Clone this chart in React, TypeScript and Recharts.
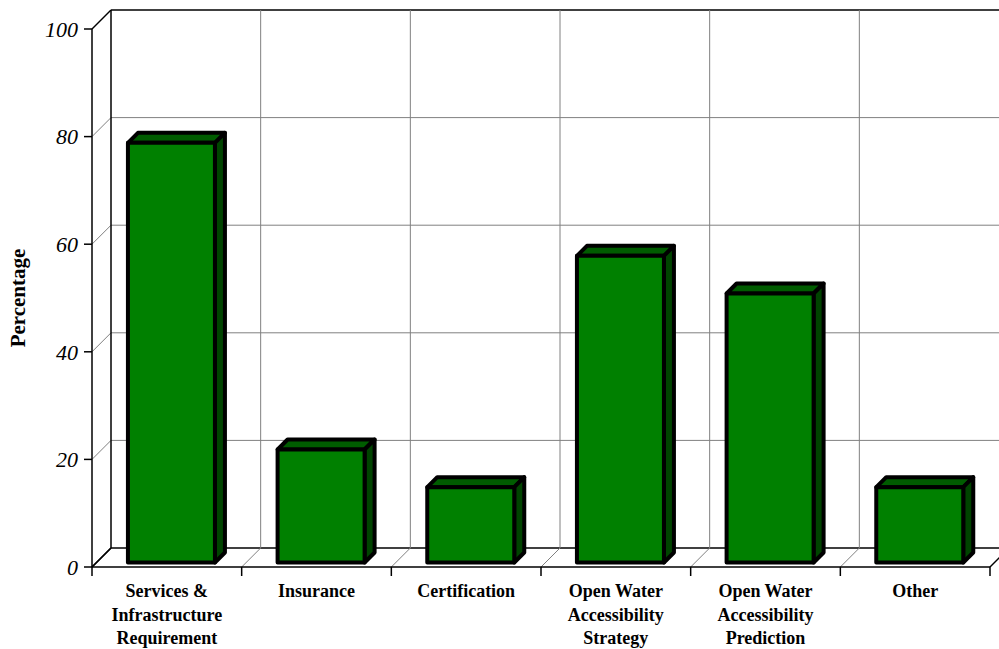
import * as React from 'react'
import { Bar, BarChart, CartesianGrid, Label, XAxis, YAxis } from 'recharts'

// categories as printed under the axis (line breaks as in the original)
const categories = [
  'Services & Infrastructure Requirement',
  'Insurance',
  'Certification',
  'Open Water Accessibility Strategy',
  'Open Water Accessibility Prediction',
  'Other',
]
const categoryLines = [
  ['Services &', 'Infrastructure', 'Requirement'],
  ['Insurance'],
  ['Certification'],
  ['Open Water', 'Accessibility', 'Strategy'],
  ['Open Water', 'Accessibility', 'Prediction'],
  ['Other'],
]
const percentages = [78, 21, 14, 57, 50, 14]
const yTicks = [0, 20, 40, 60, 80, 100]

const data = categories.map((name, i) => ({ name, value: percentages[i] }))

const FONT = '"Liberation Serif", "Times New Roman", serif'
const WALL_DEPTH = 19
const BAR_DEPTH = 10
const BAR_SHIFT = 4.5
const GRID = '#808080'
const FRONT = '#008000'
const TOP = '#005c00'
const SIDE = '#004400'

const renderHLine = (p: any) => {
  const top = p.y ?? p.offset?.top
  const bottom = top + (p.height ?? p.offset?.height)
  const edge = Math.abs(p.y1 - top) < 0.5 || Math.abs(p.y1 - bottom) < 0.5
  const c = edge ? '#000' : GRID
  const w = edge ? 1.5 : 1
  return (
    <g key={p.key}>
      <line x1={p.x1} y1={p.y1} x2={p.x1 + WALL_DEPTH} y2={p.y1 - WALL_DEPTH} stroke={c} strokeWidth={w} />
      <line
        x1={p.x1 + WALL_DEPTH}
        y1={p.y1 - WALL_DEPTH}
        x2={p.x2 + WALL_DEPTH}
        y2={p.y2 - WALL_DEPTH}
        stroke={c}
        strokeWidth={w}
      />
    </g>
  )
}

const renderVLine = (p: any) => {
  const left = p.x ?? p.offset?.left
  const right = left + (p.width ?? p.offset?.width)
  const isLeft = Math.abs(p.x1 - left) < 0.5
  const isRight = Math.abs(p.x1 - right) < 0.5
  return (
    <g key={p.key}>
      <line
        x1={p.x1 + WALL_DEPTH}
        y1={p.y1 - WALL_DEPTH}
        x2={p.x2 + WALL_DEPTH}
        y2={p.y2 - WALL_DEPTH}
        stroke={isLeft ? '#000' : GRID}
        strokeWidth={isLeft ? 1.5 : 1}
      />
      <line
        x1={p.x2}
        y1={p.y2}
        x2={p.x2 + WALL_DEPTH}
        y2={p.y2 - WALL_DEPTH}
        stroke={isLeft || isRight ? '#000' : GRID}
        strokeWidth={isLeft || isRight ? 1.5 : 1}
      />
    </g>
  )
}

// vertical wall lines sit on the category band edges (band scale, no padding)
const bandEdges = ({ offset }: any) => {
  const n = categories.length
  return categories.map((_, i) => offset.left + (i * offset.width) / n).concat(offset.left + offset.width)
}

const Box3D = (p: any) => {
  const { x, y, width, height } = p
  if (x == null || height == null) return null
  const x0 = x + BAR_SHIFT
  const y0 = y - BAR_SHIFT
  const x1 = x0 + width
  const y1 = y0 + height
  const d = BAR_DEPTH
  return (
    <g stroke="#000" strokeWidth={4} strokeLinejoin="round">
      <polygon points={`${x0},${y0} ${x0 + d},${y0 - d} ${x1 + d},${y0 - d} ${x1},${y0}`} fill={TOP} />
      <polygon points={`${x1},${y0} ${x1 + d},${y0 - d} ${x1 + d},${y1 - d} ${x1},${y1}`} fill={SIDE} />
      <rect x={x0} y={y0} width={width} height={height} fill={FRONT} />
    </g>
  )
}

const XTick = (p: any) => {
  const { x, y, payload, index, visibleTicksCount } = p
  const half = payload?.offset ?? 0
  const lines = categoryLines[index] ?? [String(payload?.value)]
  return (
    <g>
      <line x1={x - half} y1={y} x2={x - half} y2={y + 9} stroke="#000" strokeWidth={1.5} />
      {index === visibleTicksCount - 1 && (
        <line x1={x + half} y1={y} x2={x + half} y2={y + 9} stroke="#000" strokeWidth={1.5} />
      )}
      <text x={x} y={y + 30} textAnchor="middle" fontFamily={FONT} fontWeight="bold" fontSize={18} fill="#000">
        {lines.map((l, i) => (
          <tspan key={i} x={x} dy={i === 0 ? 0 : 23.5}>
            {l}
          </tspan>
        ))}
      </text>
    </g>
  )
}

const YLabel = (p: any) => {
  const vb = p.viewBox ?? { x: 0, y: 29, width: 92, height: 538 }
  const cx = vb.x + 25
  const cy = vb.y + vb.height / 2
  return (
    <text
      x={cx}
      y={cy}
      transform={`rotate(-90, ${cx}, ${cy})`}
      textAnchor="middle"
      fontFamily={FONT}
      fontWeight="bold"
      fontSize={21}
      fill="#000"
    >
      Percentage
    </text>
  )
}

export default function App() {
  return (
    <div style={{ position: 'absolute', left: 0, top: 0, width: 999, height: 649, background: '#fff' }}>
      <BarChart
        width={999}
        height={649}
        data={data}
        margin={{ top: 29, right: 9, bottom: 0, left: 0 }}
        barCategoryGap="21%"
      >
        <CartesianGrid
          horizontal={renderHLine}
          vertical={renderVLine}
          verticalCoordinatesGenerator={bandEdges}
        />
        <XAxis
          dataKey="name"
          height={82}
          interval={0}
          tickSize={0}
          tickMargin={0}
          tickLine={false}
          axisLine={{ stroke: '#000', strokeWidth: 1.5 }}
          tick={<XTick />}
        />
        <YAxis
          width={92}
          domain={[0, 100]}
          ticks={yTicks}
          interval={0}
          tickSize={8}
          tickMargin={6}
          axisLine={{ stroke: '#000', strokeWidth: 1.5 }}
          tickLine={{ stroke: '#000', strokeWidth: 1.5 }}
          tick={{ fontFamily: FONT, fontStyle: 'italic', fontSize: 22, fill: '#000' }}
        >
          <Label content={<YLabel />} />
        </YAxis>
        <Bar dataKey="value" shape={<Box3D />} isAnimationActive={false} />
      </BarChart>
    </div>
  )
}
